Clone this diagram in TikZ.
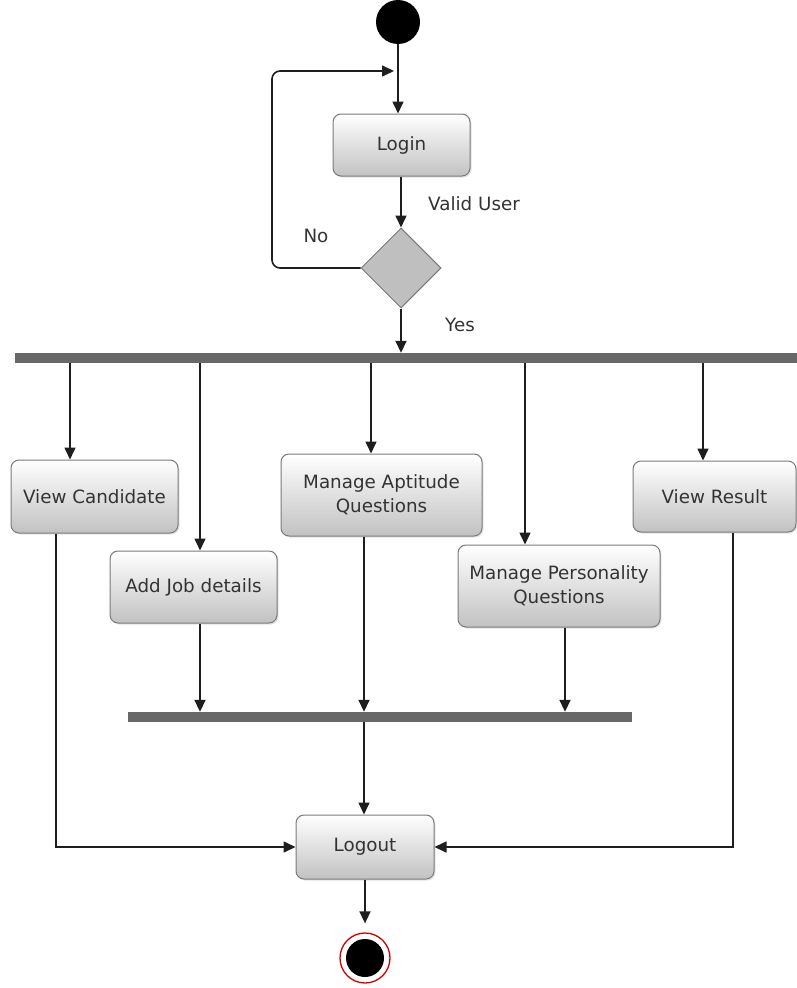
\documentclass[tikz,border=0pt]{standalone}
\usepackage{fontspec}
\setmainfont{DejaVu Sans}
\usetikzlibrary{shapes.geometric,arrows.meta,shadows}
\definecolor{txt}{HTML}{333333}
\definecolor{edge}{HTML}{7A7A7A}
\definecolor{barc}{HTML}{686868}
\definecolor{ink}{HTML}{1E1E1E}
\tikzset{
  act/.style={rectangle, rounded corners=8pt, draw=edge, line width=1pt,
    top color=white, bottom color=black!24, text=txt, align=center,
    font=\fontsize{18.3}{24}\selectfont, inner sep=2pt,
    drop shadow={opacity=0.22, shadow xshift=1.5pt, shadow yshift=-1.5pt}},
  bar/.style={rectangle, fill=barc, inner sep=0pt, minimum height=10pt},
  arr/.style={draw=ink, line width=1.6pt, -{Triangle[length=12pt,width=11pt]}},
  lbl/.style={text=txt, font=\fontsize{18.3}{24}\selectfont, inner sep=0pt},
}
\begin{document}
\begin{tikzpicture}[x=1pt,y=-1pt]
\useasboundingbox (0,0) rectangle (797,988);

% start and decision
\node (start) [circle, fill=black, minimum size=44pt, inner sep=0pt] at (398,22) {};
\node (login) [act, minimum width=137pt, minimum height=62pt] at (401.5,145) {Login};
\node (dec) [diamond, aspect=1, draw=edge, line width=1pt, fill=black!25,
  minimum width=80pt, minimum height=80pt, inner sep=0pt] at (401,268) {};

% fork and join bars
\node (fork) [bar, minimum width=782pt] at (406,358) {};
\node (join) [bar, minimum width=504pt] at (380,717) {};

% activities
\node (cand) [act, minimum width=167pt, minimum height=73pt] at (94.5,496.5) {View Candidate};
\node (job)  [act, minimum width=167pt, minimum height=72pt] at (193.5,587) {Add Job details};
\node (apt)  [act, minimum width=201pt, minimum height=82pt] at (381.5,495) {Manage Aptitude\\Questions};
\node (pers) [act, minimum width=202pt, minimum height=82pt] at (559,586) {Manage Personality\\Questions};
\node (res)  [act, minimum width=163pt, minimum height=71pt] at (714.5,496.5) {View Result};
\node (logout) [act, minimum width=138pt, minimum height=64pt] at (365,847) {Logout};

% final state
\node (end) [circle, draw=red!80!black, line width=1.3pt, fill=white,
  minimum size=50pt, inner sep=0pt] at (365,958) {};
\fill[black] (end.center) circle (19pt);

% guard labels
\node (lvalid) [lbl, anchor=west] at (428,204) {Valid User};
\node (lno)    [lbl] at (316,236) {No};
\node (lyes)   [lbl] at (460,325) {Yes};

% column positions of the connectors
\coordinate (xc) at (70,0);
\coordinate (xj) at (200,0);
\coordinate (xa) at (371,0);
\coordinate (xp) at (525,0);
\coordinate (xr) at (703,0);
\coordinate (xa2) at (364,0);
\coordinate (xp2) at (565,0);
\coordinate (xcl) at (56,0);
\coordinate (xrl) at (733,0);
\coordinate (loopend) at (394,71);

% control flow
\draw[arr] (start.south) -- (start.south |- login.north);
\draw[arr] (login.south -| dec.north) -- (dec.north);
\draw[arr, rounded corners=8pt] (dec.west) -- (272,268) -- (272,71) -- (loopend);
\draw[arr] (dec.south) -- (dec.south |- fork.north);

\draw[arr] (fork.south -| xc) -- (cand.north -| xc);
\draw[arr] (fork.south -| xj) -- (job.north -| xj);
\draw[arr] (fork.south -| xa) -- (apt.north -| xa);
\draw[arr] (fork.south -| xp) -- (pers.north -| xp);
\draw[arr] (fork.south -| xr) -- (res.north -| xr);

\draw[arr] (job.south -| xj) -- (join.north -| xj);
\draw[arr] (apt.south -| xa2) -- (join.north -| xa2);
\draw[arr] (pers.south -| xp2) -- (join.north -| xp2);
\draw[arr] (join.south -| xa2) -- (logout.north -| xa2);

\draw[arr] (cand.south -| xcl) |- (logout.west);
\draw[arr] (res.south -| xrl) |- (logout.east);
\draw[arr, shorten >=9pt] (logout.south) -- (end.north);
\end{tikzpicture}
\end{document}
